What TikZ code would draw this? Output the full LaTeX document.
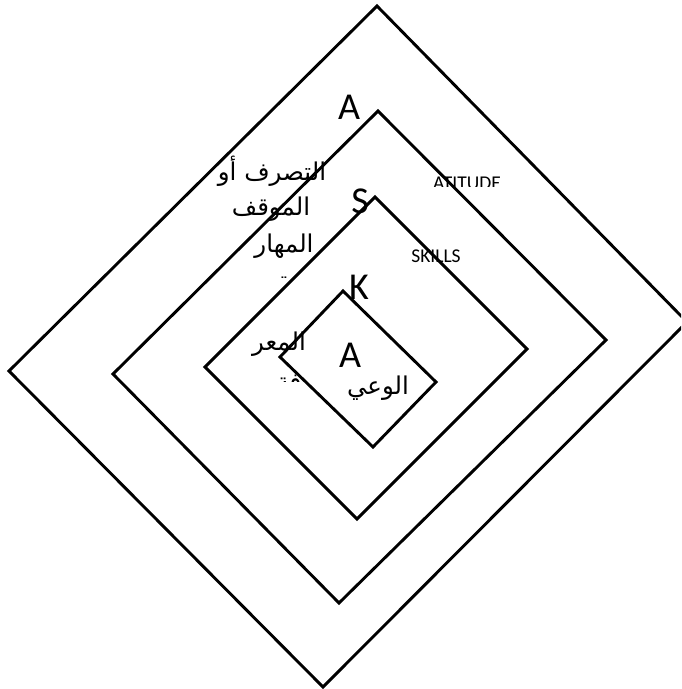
\documentclass[tikz,border=0pt]{standalone}
\usepackage{fontspec}
\setmainfont{Carlito}
\newfontfamily\arabicfont[Script=Arabic]{DejaVu Sans}
\TeXXeTstate=1
\begin{document}
\begin{tikzpicture}[x=1pt,y=-1pt,
  frame/.style={draw=black,line width=2.9pt,line join=miter},
  lat/.style={inner sep=0pt,font=\fontsize{19.5}{22}\selectfont},
  big/.style={inner sep=0pt,font=\fontsize{38}{42}\selectfont},
  ar/.style={inner sep=0pt,font=\arabicfont\fontsize{24.5}{28}\selectfont}]
\useasboundingbox (0,0) rectangle (681,689);
\clip (0,0) rectangle (681,689);
% diamond corners
\coordinate (o1) at (377,6);   \coordinate (o2) at (687,322);
\coordinate (o3) at (323,687); \coordinate (o4) at (9,371);
\coordinate (b1) at (378,111); \coordinate (b2) at (606,340);
\coordinate (b3) at (339,603); \coordinate (b4) at (113,374);
\coordinate (c1) at (375,197); \coordinate (c2) at (527,349);
\coordinate (c3) at (357,519); \coordinate (c4) at (205,367);
\coordinate (d1) at (343,291); \coordinate (d2) at (436,382);
\coordinate (d3) at (373,447); \coordinate (d4) at (280,357);
% texts
\node[ar] (t1) at (272,171) {\beginR التصرف أو\endR};
\node[ar] (t2) at (271,209) {\beginR الموقف\endR};
\node[ar] (t3) at (284,246) {\beginR المهار\endR};
\node[ar] (t5) at (279,344) {\beginR المعر\endR};
\node[ar] (t6) at (378,388) {\beginR الوعي\endR};
\begin{scope}
  \clip (270,266) rectangle (300,277);
  \node[ar] (t4) at (285,284) {\beginR ة\endR};
\end{scope}
\begin{scope}
  \clip (270,360) rectangle (310,381);
  \node[ar] (t7) at (289,383) {\beginR فة\endR};
\end{scope}
\node[big] (la) at (349,107) {A};
\node[big] (ls) at (360,201) {S};
\node[big] (lk) at (359,287) {K};
\node[big] (li) at (350,355) {A};
\begin{scope}
  \clip (420,160) rectangle (520,186);
  \node[lat,anchor=base] (at) at (467,189.5) {ATITUDE};
\end{scope}
\node[lat,anchor=base] (sk) at (436,262) {SKILLS};
% frames
\draw[frame] (o1) -- (o2) -- (o3) -- (o4) -- cycle;
\draw[frame] (b1) -- (b2) -- (b3) -- (b4) -- cycle;
\draw[frame] (c1) -- (c2) -- (c3) -- (c4) -- cycle;
\draw[frame] (d1) -- (d2) -- (d3) -- (d4) -- cycle;
\end{tikzpicture}
\end{document}
